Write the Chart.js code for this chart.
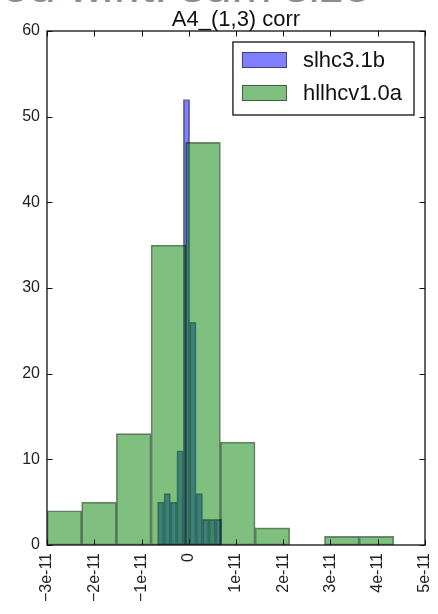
<!DOCTYPE html>
<html>
<head>
<meta charset="utf-8">
<script src="https://cdn.jsdelivr.net/npm/chart.js@4.4.1/dist/chart.umd.min.js"></script>
<style>
  html, body { margin: 0; padding: 0; background: #fff; }
  #wrap { position: relative; width: 438px; height: 614px; overflow: hidden; }
  #heading { position: absolute; left: -22px; top: -38px; font: 48px "Liberation Sans", Arial, sans-serif;
             line-height: 1; color: #8c8c8c; white-space: nowrap; }
  canvas { position: absolute; left: 0; top: 0; }
</style>
</head>
<body>
<div id="wrap">
  <div id="heading">sed w.r.t. sum size</div>
  <canvas id="c" width="438" height="614"></canvas>
</div>
<script>
// Histogram of the A4_(1,3) correction for two optics versions
const chartTitle = 'A4_(1,3) corr';
const seriesNames = ['slhc3.1b', 'hllhcv1.0a'];

// slhc3.1b: fine binning
const slhcEdges = [-0.660e-11, -0.524e-11, -0.388e-11, -0.252e-11, -0.116e-11, 0.020e-11,
                   0.156e-11, 0.292e-11, 0.428e-11, 0.564e-11, 0.700e-11];
const slhcCounts = [5, 6, 5, 11, 52, 26, 6, 3, 3, 3];

// hllhcv1.0a: coarse binning
const hllhcEdges = [-3.000e-11, -2.266e-11, -1.532e-11, -0.798e-11, -0.064e-11, 0.670e-11,
                    1.404e-11, 2.138e-11, 2.872e-11, 3.606e-11, 4.340e-11];
const hllhcCounts = [4, 5, 13, 35, 47, 12, 2, 0, 1, 1];

const yTicks = [0, 10, 20, 30, 40, 50, 60];
const xTickValues = [-3e-11, -2e-11, -1e-11, 0, 1e-11, 2e-11, 3e-11, 4e-11, 5e-11];
const xTickLabels = ['\u22123e-11', '\u22122e-11', '\u22121e-11', '0', '1e-11', '2e-11', '3e-11', '4e-11', '5e-11'];

const FONT = '"Liberation Sans", Arial, sans-serif';

// one bar per bin, centred between its edges
function bins(edges, counts) {
  return counts.map((c, i) => ({ x: (edges[i] + edges[i + 1]) / 2, y: c }));
}

// axes frame with inward ticks on all four sides
const framePlugin = {
  id: 'frame',
  afterDatasetsDraw(chart) {
    const { ctx, chartArea: a, scales } = chart;
    const len = 5.5;
    ctx.save();
    ctx.strokeStyle = '#111';
    ctx.lineWidth = 1;
    ctx.beginPath();
    for (const v of xTickValues) {
      const px = Math.round(scales.x.getPixelForValue(v)) + 0.5;
      ctx.moveTo(px, a.bottom); ctx.lineTo(px, a.bottom - len);
      ctx.moveTo(px, a.top); ctx.lineTo(px, a.top + len);
    }
    for (const v of yTicks) {
      const py = Math.round(scales.y.getPixelForValue(v)) + 0.5;
      ctx.moveTo(a.left, py); ctx.lineTo(a.left + len, py);
      ctx.moveTo(a.right, py); ctx.lineTo(a.right - len, py);
    }
    ctx.stroke();
    ctx.lineWidth = 1.3;
    ctx.strokeRect(a.left, a.top, a.right - a.left, a.bottom - a.top);
    ctx.restore();
  }
};

// boxed legend in the upper right of the plot area
const legendPlugin = {
  id: 'boxedLegend',
  afterDraw(chart) {
    const { ctx, chartArea: a } = chart;
    const sets = chart.data.datasets;
    ctx.save();
    ctx.font = '22px ' + FONT;
    const textW = Math.max(...sets.map(d => ctx.measureText(d.label).width));
    const padL = 9, swW = 45, swH = 16, gap = 16, padR = 12, rowH = 33, padT = 18, padB = 22;
    const w = padL + swW + gap + textW + padR;
    const h = padT + rowH * (sets.length - 1) + padB;
    const x0 = a.right - 11 - w, y0 = a.top + 11;
    ctx.fillStyle = '#fff';
    ctx.fillRect(x0, y0, w, h);
    ctx.strokeStyle = '#111';
    ctx.lineWidth = 1.3;
    ctx.strokeRect(x0, y0, w, h);
    sets.forEach((d, i) => {
      const cy = y0 + padT + i * rowH;
      ctx.fillStyle = d.backgroundColor;
      ctx.fillRect(x0 + padL, cy - swH / 2, swW, swH);
      ctx.strokeStyle = d.borderColor;
      ctx.lineWidth = 1;
      ctx.strokeRect(x0 + padL + 0.5, cy - swH / 2 + 0.5, swW - 1, swH - 1);
      ctx.fillStyle = '#111';
      ctx.textBaseline = 'middle';
      ctx.textAlign = 'left';
      ctx.fillText(d.label, x0 + padL + swW + gap, cy + 1);
    });
    ctx.restore();
  }
};

const barStyle = { borderWidth: 1, borderSkipped: false, barPercentage: 1, categoryPercentage: 1, grouped: false };

new Chart(document.getElementById('c'), {
  type: 'bar',
  data: {
    datasets: [
      Object.assign({ label: seriesNames[0], data: bins(slhcEdges, slhcCounts), xAxisID: 'xFine',
        backgroundColor: 'rgba(0,0,255,0.5)', borderColor: 'rgba(0,0,0,0.5)', order: 1 }, barStyle),
      Object.assign({ label: seriesNames[1], data: bins(hllhcEdges, hllhcCounts), xAxisID: 'x',
        backgroundColor: 'rgba(0,128,0,0.5)', borderColor: 'rgba(0,0,0,0.5)', order: 0 }, barStyle)
    ]
  },
  options: {
    responsive: false,
    animation: false,
    layout: { padding: { top: 0, right: 13, bottom: 0, left: 0 } },
    plugins: {
      legend: { display: false },
      tooltip: { enabled: false },
      title: {
        display: true, text: chartTitle, color: '#111', fullSize: false,
        font: { family: FONT, size: 22, weight: 'normal', lineHeight: 1 },
        padding: { top: 9, bottom: 0 }
      }
    },
    scales: {
      x: {
        type: 'linear', position: 'bottom', offset: false,
        min: xTickValues[0], max: xTickValues[xTickValues.length - 1],
        grid: { display: false, drawTicks: false, offset: false },
        border: { display: false },
        afterBuildTicks: s => { s.ticks = xTickValues.map(v => ({ value: v })); },
        ticks: {
          autoSkip: false, minRotation: 90, maxRotation: 90, padding: 8,
          color: '#222', font: { family: FONT, size: 16 },
          callback: (v, i) => xTickLabels[i]
        },
        afterFit: s => { s.height = 69; s.paddingLeft = 0; s.paddingRight = 0; }
      },
      xFine: {
        type: 'linear', display: false, offset: false,
        grid: { offset: false },
        min: xTickValues[0], max: xTickValues[xTickValues.length - 1]
      },
      y: {
        min: yTicks[0], max: yTicks[yTicks.length - 1],
        grid: { display: false, drawTicks: false },
        border: { display: false },
        afterBuildTicks: s => { s.ticks = yTicks.map(v => ({ value: v })); },
        ticks: { padding: 7, color: '#222', font: { family: FONT, size: 16 }, callback: v => String(v) },
        afterFit: s => { s.width = 47; }
      }
    }
  },
  plugins: [framePlugin, legendPlugin]
});
</script>
</body>
</html>
